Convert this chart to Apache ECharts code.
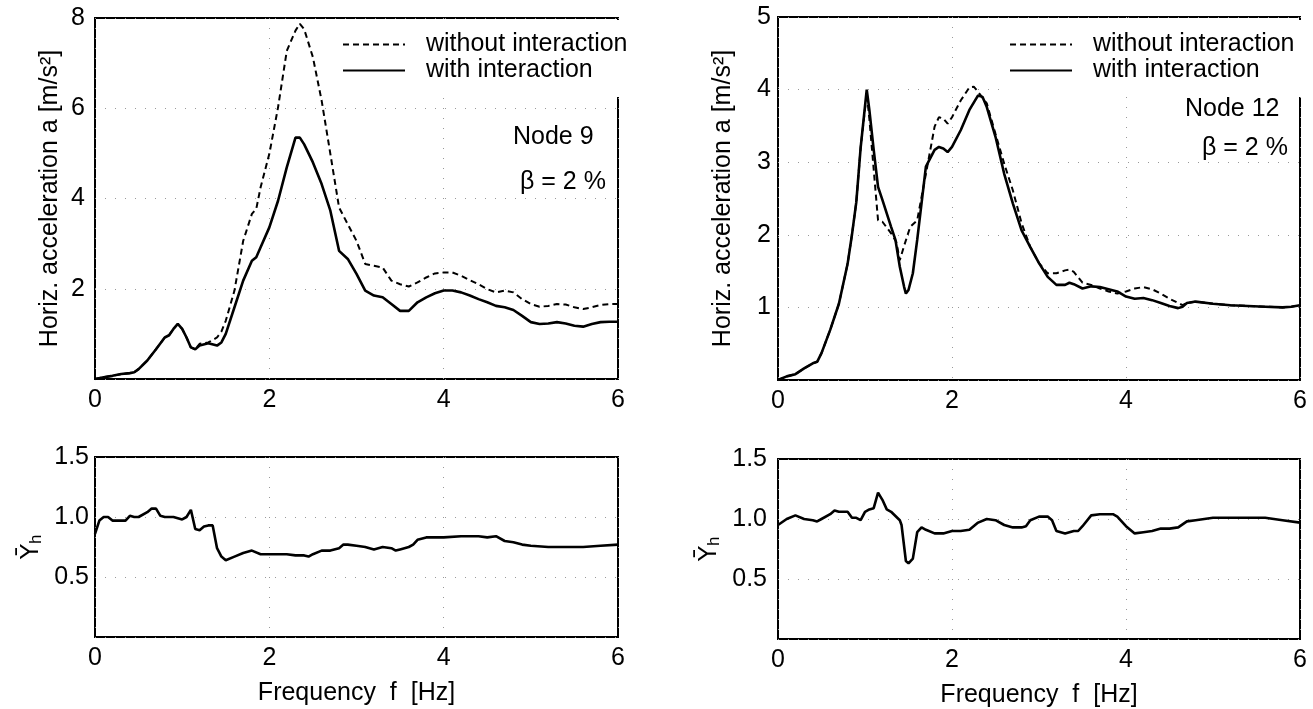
<!DOCTYPE html>
<html>
<head>
<meta charset="utf-8">
<script src="https://cdn.jsdelivr.net/npm/echarts@6/dist/echarts.min.js"></script>
<style>
  html, body { margin: 0; padding: 0; background: #fff; }
  #chart { width: 1313px; height: 709px; }
</style>
</head>
<body>
<div id="chart"></div>
<script>
// ---- Node 9: horizontal acceleration [m/s2] ----
const freq9 = [0,0.1,0.2,0.3,0.4,0.45,0.5,0.6,0.7,0.8,0.85,0.9,0.95,1.0,1.05,1.1,1.15,1.2,1.3,1.4,1.45,1.5,1.6,1.7,1.8,1.85,1.9,2.0,2.1,2.2,2.3,2.35,2.4,2.5,2.6,2.7,2.8,2.9,3.0,3.1,3.2,3.3,3.4,3.5,3.6,3.7,3.8,3.9,4.0,4.1,4.2,4.3,4.4,4.5,4.6,4.7,4.8,4.9,5.0,5.1,5.2,5.3,5.4,5.5,5.6,5.7,5.8,5.9,6.0];
const with9 = [0,0.04,0.07,0.11,0.13,0.15,0.22,0.41,0.66,0.92,0.97,1.11,1.22,1.11,0.92,0.70,0.66,0.74,0.79,0.74,0.81,1.0,1.59,2.18,2.62,2.70,2.92,3.36,3.95,4.69,5.35,5.35,5.2,4.8,4.32,3.73,2.84,2.66,2.33,1.96,1.85,1.81,1.66,1.51,1.51,1.70,1.81,1.90,1.96,1.96,1.92,1.85,1.77,1.70,1.62,1.59,1.53,1.40,1.26,1.22,1.23,1.26,1.23,1.18,1.16,1.22,1.26,1.27,1.27];
const without9 = [0,0.04,0.07,0.11,0.13,0.15,0.22,0.41,0.66,0.92,0.97,1.11,1.22,1.11,0.92,0.70,0.66,0.78,0.81,0.92,1.05,1.29,1.96,3.06,3.66,3.77,4.25,4.99,6.02,7.27,7.72,7.87,7.75,7.13,6.17,4.99,3.80,3.43,3.06,2.55,2.51,2.47,2.18,2.10,2.05,2.14,2.25,2.34,2.36,2.36,2.29,2.19,2.10,1.99,1.92,1.96,1.92,1.77,1.66,1.60,1.62,1.66,1.65,1.59,1.55,1.59,1.64,1.66,1.66];

// ---- Node 12: horizontal acceleration [m/s2] ----
const freq12 = [0,0.1,0.2,0.3,0.4,0.45,0.5,0.6,0.7,0.8,0.85,0.9,0.95,1.02,1.05,1.1,1.15,1.2,1.3,1.35,1.4,1.45,1.47,1.5,1.55,1.6,1.7,1.8,1.85,1.9,1.95,2.0,2.1,2.2,2.3,2.35,2.4,2.5,2.6,2.7,2.8,2.9,3.0,3.1,3.2,3.3,3.35,3.4,3.5,3.6,3.7,3.8,3.9,4.0,4.1,4.2,4.3,4.4,4.5,4.6,4.65,4.7,4.8,5.0,5.2,5.4,5.6,5.8,5.9,6.0];
const with12 = [0,0.05,0.08,0.16,0.23,0.25,0.37,0.69,1.05,1.6,2.0,2.45,3.2,4.0,3.72,3.17,2.66,2.48,2.11,1.93,1.56,1.28,1.19,1.24,1.47,1.93,2.94,3.17,3.21,3.19,3.14,3.21,3.44,3.72,3.92,3.90,3.76,3.35,2.84,2.43,2.06,1.83,1.61,1.42,1.31,1.31,1.34,1.32,1.26,1.29,1.28,1.25,1.22,1.15,1.12,1.13,1.10,1.06,1.02,0.99,1.01,1.06,1.08,1.05,1.03,1.02,1.01,1.00,1.01,1.03];
const freq12b = [0,0.1,0.2,0.3,0.4,0.45,0.5,0.6,0.7,0.8,0.85,0.9,0.95,1.02,1.05,1.1,1.15,1.2,1.3,1.36,1.4,1.45,1.52,1.6,1.7,1.8,1.85,1.9,1.95,2.0,2.1,2.2,2.25,2.3,2.4,2.5,2.6,2.7,2.8,2.9,3.0,3.1,3.2,3.3,3.35,3.4,3.5,3.6,3.7,3.8,3.9,4.0,4.1,4.2,4.3,4.4,4.5,4.6,4.65,4.7,4.8,5.0,5.2,5.4,5.6,5.8,5.9,6.0];
const without12 = [0,0.05,0.08,0.16,0.23,0.25,0.37,0.69,1.05,1.6,2.0,2.45,3.2,3.95,3.6,2.9,2.2,2.18,2.02,1.9,1.65,1.85,2.11,2.2,2.84,3.49,3.62,3.60,3.53,3.62,3.85,4.03,4.04,3.97,3.81,3.39,2.98,2.61,2.16,1.83,1.61,1.47,1.47,1.51,1.52,1.49,1.34,1.31,1.26,1.22,1.19,1.22,1.26,1.28,1.25,1.19,1.12,1.06,1.03,1.06,1.08,1.05,1.03,1.02,1.01,1.00,1.01,1.03];

// ---- ratio Y_h ----
const freqR9 = [0,0.05,0.1,0.15,0.2,0.3,0.35,0.4,0.45,0.5,0.6,0.65,0.7,0.75,0.8,0.9,1.0,1.05,1.1,1.15,1.2,1.25,1.3,1.35,1.4,1.45,1.5,1.6,1.7,1.8,1.9,2.0,2.2,2.3,2.4,2.45,2.5,2.6,2.7,2.8,2.85,2.9,3.0,3.1,3.2,3.3,3.4,3.45,3.5,3.6,3.65,3.7,3.8,3.9,4.0,4.2,4.4,4.5,4.6,4.7,4.8,4.9,5.0,5.2,5.4,5.6,5.8,6.0];
const ratio9 = [0.86,0.97,1.0,1.0,0.97,0.97,0.97,1.01,1.0,1.0,1.04,1.07,1.07,1.01,1.0,1.0,0.98,1.0,1.06,0.9,0.89,0.92,0.93,0.93,0.74,0.67,0.64,0.67,0.70,0.72,0.69,0.69,0.69,0.68,0.68,0.67,0.69,0.72,0.72,0.74,0.77,0.77,0.76,0.75,0.73,0.75,0.74,0.72,0.73,0.75,0.77,0.81,0.83,0.83,0.83,0.84,0.84,0.83,0.84,0.80,0.79,0.77,0.76,0.75,0.75,0.75,0.76,0.77];
const freqR12 = [0,0.1,0.2,0.3,0.4,0.45,0.5,0.6,0.65,0.7,0.8,0.85,0.9,0.95,1.0,1.05,1.1,1.15,1.2,1.25,1.3,1.4,1.42,1.47,1.5,1.55,1.6,1.65,1.7,1.8,1.9,2.0,2.1,2.2,2.3,2.4,2.5,2.6,2.7,2.8,2.85,2.9,3.0,3.1,3.15,3.2,3.3,3.4,3.45,3.5,3.6,3.7,3.8,3.85,3.9,4.0,4.1,4.2,4.3,4.4,4.5,4.6,4.7,4.8,5.0,5.2,5.4,5.6,5.8,6.0];
const ratio12 = [0.95,1.0,1.03,1.0,0.99,0.98,1.0,1.04,1.07,1.06,1.06,1.01,1.01,0.99,1.06,1.08,1.09,1.22,1.16,1.08,1.06,0.99,0.95,0.65,0.63,0.67,0.89,0.93,0.91,0.88,0.88,0.90,0.90,0.91,0.97,1.0,0.99,0.95,0.93,0.93,0.94,0.99,1.02,1.02,0.99,0.90,0.88,0.90,0.90,0.94,1.03,1.04,1.04,1.04,1.02,0.94,0.88,0.89,0.90,0.92,0.92,0.93,0.98,0.99,1.01,1.01,1.01,1.01,0.99,0.97];

const freqTicks = [0, 2, 4, 6];
const names = ['without interaction', 'with interaction'];

const font = '"Liberation Sans", Arial, Helvetica, sans-serif';
const zip = (xs, ys) => xs.map((x, i) => [x, ys[i]]);

const chart = echarts.init(document.getElementById('chart'));

const grid = (left, top, width, height) => ({
    left: left, top: top, width: width, height: height,
    show: true, borderColor: '#000', borderWidth: 2, backgroundColor: 'transparent'
});

const dotted = { show: true, lineStyle: { color: '#999', width: 1, type: [1, 9] } };

function xAx(gridIndex, withName) {
    return {
        type: 'value', gridIndex: gridIndex,
        min: freqTicks[0], max: freqTicks[freqTicks.length - 1], interval: 2,
        axisLine: { show: false }, axisTick: { show: false },
        axisLabel: { fontSize: 25, color: '#000', margin: 9 },
        splitLine: dotted,
        name: withName ? 'Frequency  f  [Hz]' : '',
        nameLocation: 'middle', nameGap: 44,
        nameTextStyle: { fontSize: 25, color: '#000' }
    };
}

function yAx(gridIndex, max, interval, name, gap, margin, fmt) {
    return {
        type: 'value', gridIndex: gridIndex,
        min: 0, max: max, interval: interval,
        axisLine: { show: false }, axisTick: { show: false },
        axisLabel: { fontSize: 25, color: '#000', margin: margin, formatter: fmt },
        splitLine: dotted,
        name: name, nameLocation: 'middle', nameGap: gap,
        nameTextStyle: {
            fontSize: 25, color: '#000',
            rich: {
                y: { fontSize: 25, fontFamily: '"DejaVu Sans", ' + font },
                h: { fontSize: 17, verticalAlign: 'bottom', padding: [10, 0, 0, 0] }
            }
        }
    };
}

const fmtInt = v => (v === 0 ? '' : String(v));
const fmtDec = v => (v === 0 ? '' : v.toFixed(1));

// legend shows only the line sample, no symbol
const legend = (left) => ({
    data: names, orient: 'vertical', left: left, top: 20,
    backgroundColor: '#fff', padding: [12, 8, 14, 4],
    itemWidth: 62, itemHeight: 14, itemGap: 1,
    selectedMode: false,
    itemStyle: { opacity: 0 },
    textStyle: { fontSize: 25, color: '#000', lineHeight: 22, padding: [0, 0, 0, 16] }
});

const dashStyle = { color: '#000', width: 2, type: [6, 4] };
const solidStyle = { color: '#000', width: 2.6 };

function line(name, xi, yi, data, style, z) {
    return {
        name: name, type: 'line', xAxisIndex: xi, yAxisIndex: yi,
        data: data, showSymbol: false, symbol: 'none',
        itemStyle: { color: '#000' },
        lineStyle: style, z: z, animation: false
    };
}

const label = (left, top, text) => ({
    type: 'text', left: left, top: top,
    style: { text: text, fontSize: 25, fontFamily: font, fill: '#000' }
});

chart.setOption({
    backgroundColor: '#fff',
    textStyle: { fontFamily: font },
    animation: false,
    grid: [
        grid(95, 18, 523, 361),
        grid(778, 17, 522, 363),
        grid(95, 457, 523, 180),
        grid(778, 459, 522, 180)
    ],
    xAxis: [xAx(0, false), xAx(1, false), xAx(2, true), xAx(3, true)],
    yAxis: [
        yAx(0, 8, 2, 'Horiz. acceleration a [m/s²]', 32, 10, fmtInt),
        yAx(1, 5, 1, 'Horiz. acceleration a [m/s²]', 42, 7, fmtInt),
        yAx(2, 1.5, 0.5, '{y|Ȳ}{h|h}', 50, 6, fmtDec),
        yAx(3, 1.5, 0.5, '{y|Ȳ}{h|h}', 55, 11, fmtDec)
    ],
    legend: [legend(338), legend(1005)],
    graphic: [
        label(513, 125, 'Node 9'),
        label(520, 170, 'β = 2 %'),
        label(1185, 97, 'Node 12'),
        label(1202, 136, 'β = 2 %')
    ],
    series: [
        line(names[0], 0, 0, zip(freq9, without9), dashStyle, 2),
        line(names[1], 0, 0, zip(freq9, with9), solidStyle, 3),
        line(names[0], 1, 1, zip(freq12b, without12), dashStyle, 2),
        line(names[1], 1, 1, zip(freq12, with12), solidStyle, 3),
        line('ratio node 9', 2, 2, zip(freqR9, ratio9), solidStyle, 3),
        line('ratio node 12', 3, 3, zip(freqR12, ratio12), solidStyle, 3)
    ]
});
</script>
</body>
</html>
